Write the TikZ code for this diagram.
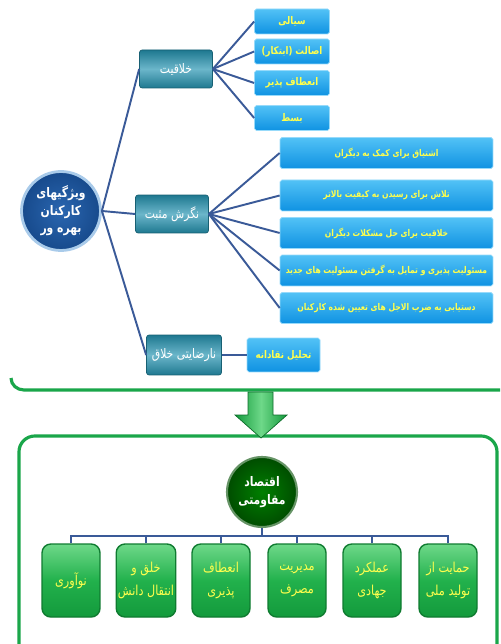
\documentclass[tikz,border=0pt]{standalone}
\usepackage{fontspec}
\newfontfamily\fa[Script=Arabic, FakeStretch=0.82]{DejaVu Sans}
\TeXXeTstate=1
\newcommand{\rtl}[1]{\beginR #1\endR}
\definecolor{linkblue}{HTML}{3A5A98}
\definecolor{itemtext}{HTML}{FFFF4D}
\definecolor{framegreen}{HTML}{1AA64A}
\definecolor{rootin}{HTML}{2A66B0}
\definecolor{rootout}{HTML}{174A8C}
\definecolor{rootrim}{HTML}{A9CBEA}
\definecolor{topicdark}{HTML}{1E7890}
\definecolor{topiclight}{HTML}{6BB6CA}
\definecolor{itemtop}{HTML}{52C2F6}
\definecolor{itembot}{HTML}{0F92E2}
\definecolor{pillartop}{HTML}{6ED889}
\definecolor{pillarmid}{HTML}{22B14C}
\definecolor{pillarbot}{HTML}{139A3C}
\tikzset{root/.style = {circle, draw=rootrim, line width=1.6pt, inner color=rootin, outer color=rootout, text=white, minimum size=1.58cm, inner sep=0pt, align=center, font=\fa\bfseries\fontsize{7.5}{10}\selectfont}}
\tikzset{topic/.style = {rectangle, rounded corners=1.5pt, draw=topicdark!80!black, top color=topicdark, bottom color=topicdark, middle color=topiclight, text=white, minimum width=1.46cm, minimum height=0.76cm, inner sep=1pt, font=\fa\fontsize{7.5}{8.5}\selectfont}}
\tikzset{item/.style = {rectangle, rounded corners=1pt, draw=itemtop!60!white, top color=itemtop, bottom color=itembot, text=itemtext, minimum width=1.5cm, minimum height=0.5cm, inner sep=1pt, font=\fa\bfseries\fontsize{6}{7}\selectfont}}
\tikzset{wideitem/.style = {item, minimum width=4.26cm, minimum height=0.62cm, font=\fa\bfseries\fontsize{5.3}{6.5}\selectfont}}
\tikzset{pillar/.style = {rectangle, rounded corners=5pt, draw=pillarbot!80!black, line width=0.8pt, top color=pillartop, bottom color=pillarbot, middle color=pillarmid, text=itemtext, minimum width=1.16cm, minimum height=1.46cm, inner sep=1pt, align=center, font=\fa\fontsize{7.8}{13}\selectfont}}
\tikzset{hub/.style = {circle, draw=green!30!black!60!white, line width=1.2pt, inner color=green!50!black, outer color=green!30!black, text=white, minimum size=1.4cm, inner sep=0pt, align=center, font=\fa\bfseries\fontsize{7.5}{10.5}\selectfont}}
\tikzset{link/.style = {draw=linkblue, line width=1.1pt}}
\tikzset{tree/.style = {draw=linkblue, line width=0.6pt}}
\begin{document}
\begin{tikzpicture}[x=0.02cm, y=-0.02cm]
            \useasboundingbox (0,0) rectangle (500,644);

            % Vertices
            \node[root] (root) at (61,211) {\rtl{ویژگیهای}\\\rtl{کارکنان}\\\rtl{بهره ور}};
            \node[topic] (khalaqiat) at (176,69) {\rtl{خلاقیت}};
            \node[topic] (negaresh) at (172,214) {\rtl{نگرش مثبت}};
            \node[topic, minimum width=1.5cm, minimum height=0.8cm] (narezayati) at (184,355) {\rtl{نارضایتی خلاق}};

            \node[item] (sayali) at (292,21.5) {\rtl{سیالی}};
            \node[item] (esalat) at (292,51.5) {\rtl{اصالت (ابتکار)}};
            \node[item] (enetaf) at (292,83) {\rtl{انعطاف پذیر}};
            \node[item] (bast) at (292,118) {\rtl{بسط}};

            \node[wideitem] (eshtiaq) at (386.5,153) {\rtl{اشتیاق برای کمک به دیگران}};
            \node[wideitem] (talash) at (386.5,195.5) {\rtl{تلاش برای رسیدن به کیفیت بالاتر}};
            \node[wideitem] (hall) at (386.5,233) {\rtl{خلاقیت برای حل مشکلات دیگران}};
            \node[wideitem] (masuliat) at (386.5,270.5) {\rtl{مسئولیت پذیری و تمایل به گرفتن مسئولیت های جدید}};
            \node[wideitem] (dastyabi) at (386.5,308) {\rtl{دستیابی به ضرب الاجل های تعیین شده کارکنان}};

            \node[item, minimum width=1.46cm, minimum height=0.68cm] (tahlil) at (283.5,355) {\rtl{تحلیل نقادانه}};

            \node[hub] (eqtesad) at (262,492) {\rtl{اقتصاد}\\\rtl{مقاومتی}};
            \coordinate (bus) at (262,536);
            \node[pillar] (noavari) at (71,580.5) {\rtl{نوآوری}};
            \node[pillar] (khalq) at (146,580.5) {\rtl{خلق و}\\\rtl{انتقال دانش}};
            \node[pillar] (paziri) at (221,580.5) {\rtl{انعطاف}\\\rtl{پذیری}};
            \node[pillar] (masraf) at (297,580.5) {\rtl{مدیریت}\\\rtl{مصرف}};
            \node[pillar] (jahadi) at (372,580.5) {\rtl{عملکرد}\\\rtl{جهادی}};
            \node[pillar] (tolid) at (448,580.5) {\rtl{حمایت از}\\\rtl{تولید ملی}};

            % Edges
            % root
            \draw[link] (root.east) -- (khalaqiat.west);
            \draw[link] (root.east) -- (negaresh.west);
            \draw[link] (root.east) -- (narezayati.west);

            % khalaqiat
            \draw[link] (khalaqiat.east) -- (sayali.west);
            \draw[link] (khalaqiat.east) -- (esalat.west);
            \draw[link] (khalaqiat.east) -- (enetaf.west);
            \draw[link] (khalaqiat.east) -- (bast.west);

            % negaresh
            \draw[link] (negaresh.east) -- (eshtiaq.west);
            \draw[link] (negaresh.east) -- (talash.west);
            \draw[link] (negaresh.east) -- (hall.west);
            \draw[link] (negaresh.east) -- (masuliat.west);
            \draw[link] (negaresh.east) -- (dastyabi.west);

            % narezayati
            \draw[link] (narezayati.east) -- (tahlil.west);

            % eqtesad
            \draw[tree] (eqtesad.south) -- (bus);
            \draw[tree] (noavari.north) |- (bus);
            \draw[tree] (khalq.north) |- (bus);
            \draw[tree] (paziri.north) |- (bus);
            \draw[tree] (masraf.north) |- (bus);
            \draw[tree] (jahadi.north) |- (bus);
            \draw[tree] (tolid.north) |- (bus);

            % Frames
            \draw[framegreen, line width=1.8pt] (11,378) to[out=-90, in=180] (24,390) -- (500,390);
            \draw[framegreen, line width=1.8pt, rounded corners=9pt] (19,660) -- (19,436) -- (497,436) -- (497,660);
            \shade[left color=pillarbot, right color=pillarbot, middle color=pillartop, draw=pillarbot!70!black, line width=0.4pt]
                (248,392) -- (273,392) -- (273,415) -- (287,415) -- (261,438) -- (235,415) -- (248,415) -- cycle;
        \end{tikzpicture}
\end{document}
